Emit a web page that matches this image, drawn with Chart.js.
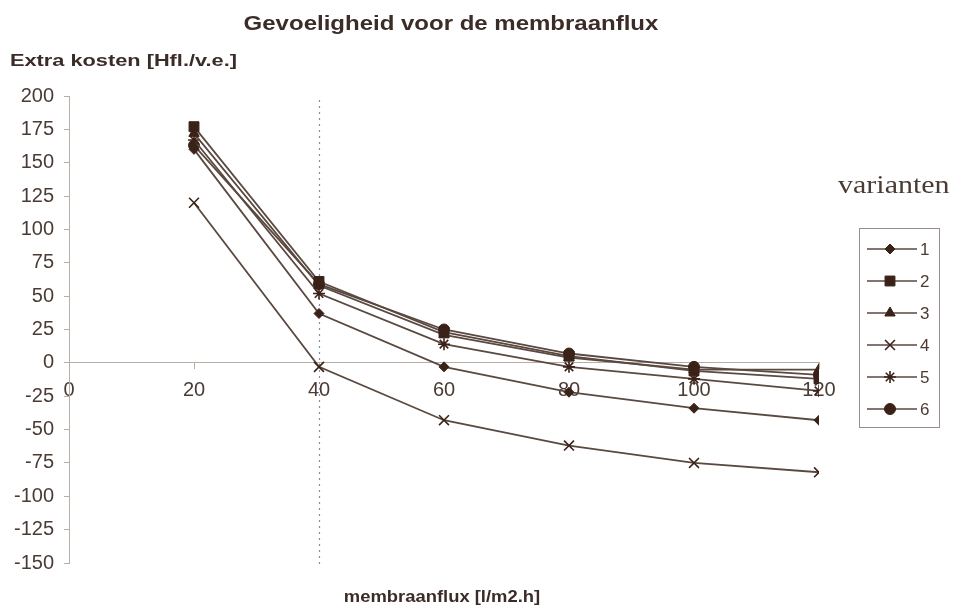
<!DOCTYPE html>
<html>
<head>
<meta charset="utf-8">
<script src="https://cdn.jsdelivr.net/npm/chart.js@4/dist/chart.umd.min.js"></script>
<style>
  html, body { margin: 0; padding: 0; background: #fff; }
  #wrap { position: relative; width: 954px; height: 609px; overflow: hidden; }
  #chart { position: absolute; left: 0; top: 0; }
  .lbl { position: absolute; color: #3b2c27; font-family: "Liberation Sans", Arial, sans-serif; font-weight: bold; white-space: nowrap; }
  #title { left: 0; width: 902px; top: 12px; text-align: center; font-size: 20px; transform: scaleX(1.2); transform-origin: 451px 0; }
  #ytitle { left: 10px; top: 51px; font-size: 17px; transform: scaleX(1.28); transform-origin: 0 0; }
  #xtitle { left: 0; width: 884px; top: 588px; text-align: center; font-size: 16px; transform: scaleX(1.15); transform-origin: 442px 0; }
  #legtitle { left: 838px; top: 171px; font-family: "Liberation Serif", "Times New Roman", serif; font-weight: normal; font-size: 25px; color: #4a3b35; transform: scaleX(1.2); transform-origin: 0 0; }
</style>
</head>
<body>
<div id="wrap">
  <canvas id="chart" width="954" height="609"></canvas>
  <div class="lbl" id="title">Gevoeligheid voor de membraanflux</div>
  <div class="lbl" id="ytitle">Extra kosten [Hfl./v.e.]</div>
  <div class="lbl" id="xtitle">membraanflux [l/m2.h]</div>
  <div class="lbl" id="legtitle">varianten</div>
</div>
<script>
const fluxValues = [20, 40, 60, 80, 100, 120];
const variantNames = ['1', '2', '3', '4', '5', '6'];
const variant1 = [160, 37, -3, -22, -34, -43];
const variant2 = [177, 61, 23, 5, -6, -12];
const variant3 = [172, 58, 21, 4, -5, -5];
const variant4 = [120, -3, -43, -62, -75, -82];
const variant5 = [167, 52, 14, -3, -12, -21];
const variant6 = [163, 59, 25, 7, -3, -9];
const yTicks = [-150, -125, -100, -75, -50, -25, 0, 25, 50, 75, 100, 125, 150, 175, 200];
const xTicks = [0, 20, 40, 60, 80, 100, 120];
const markerLine = 40;

const seriesValues = [variant1, variant2, variant3, variant4, variant5, variant6];
const pointStyles = ['rectRot', 'rect', 'triangle', 'crossRot', 'star', 'circle'];
const pointSizes = [5, 7, 6, 7, 6, 5.5];

const lineColor = '#5a4940';
const markColor = '#3a2219';
const tickFont = { size: 20, family: '"Liberation Sans", Arial' };

const datasets = seriesValues.map((vals, i) => ({
  label: variantNames[i],
  data: vals.map((v, j) => ({ x: fluxValues[j], y: v })),
  borderColor: lineColor,
  borderWidth: 1.8,
  pointStyle: pointStyles[i],
  pointRadius: pointSizes[i],
  pointBackgroundColor: markColor,
  pointBorderColor: markColor,
  pointBorderWidth: (pointStyles[i] === 'crossRot' || pointStyles[i] === 'star') ? 1.6 : 1,
  tension: 0,
}));

// dotted vertical reference line at the chosen flux
const refLine = {
  id: 'refLine',
  beforeDatasetsDraw(chart) {
    const { ctx, chartArea, scales } = chart;
    const x = Math.round(scales.x.getPixelForValue(markerLine)) + 0.5;
    ctx.save();
    ctx.strokeStyle = '#8a8aa0';
    ctx.lineWidth = 1.2;
    ctx.setLineDash([2, 4]);
    ctx.beginPath();
    ctx.moveTo(x, chartArea.top + 4);
    ctx.lineTo(x, chartArea.bottom + 2);
    ctx.stroke();
    ctx.restore();
  },
};

// boxed legend on the right side
const boxLegend = {
  id: 'boxLegend',
  afterDraw(chart) {
    const { ctx } = chart;
    const left = 859, top = 228, w = 80, h = 199, rowH = 32;
    ctx.save();
    ctx.strokeStyle = '#9a8f88';
    ctx.lineWidth = 1;
    ctx.strokeRect(left + 0.5, top + 0.5, w, h);
    ctx.font = '17px "Liberation Sans", Arial, sans-serif';
    ctx.textBaseline = 'middle';
    chart.data.datasets.forEach((ds, i) => {
      const y = top + 21 + i * rowH;
      ctx.strokeStyle = lineColor;
      ctx.lineWidth = 1.6;
      ctx.beginPath();
      ctx.moveTo(867, y);
      ctx.lineTo(917, y);
      ctx.stroke();
      ctx.fillStyle = markColor;
      ctx.strokeStyle = markColor;
      ctx.lineWidth = ds.pointBorderWidth;
      Chart.helpers.drawPoint(ctx, { pointStyle: ds.pointStyle, radius: ds.pointRadius, borderWidth: ds.pointBorderWidth, rotation: 0 }, 890, y);
      ctx.fillStyle = '#4a3b35';
      ctx.fillText(ds.label, 920, y + 1);
    });
    ctx.restore();
  },
};

new Chart(document.getElementById('chart'), {
  type: 'line',
  data: { datasets },
  options: {
    responsive: false,
    animation: false,
    layout: { padding: { left: 0, top: 96, right: 135, bottom: 46 } },
    plugins: { legend: { display: false }, tooltip: { enabled: false } },
    scales: {
      x: {
        type: 'linear',
        position: { y: 0 },
        min: 0,
        max: 120,
        afterBuildTicks(scale) { scale.ticks = xTicks.map((v) => ({ value: v })); },
        ticks: { color: '#4a3b35', font: tickFont, padding: 10, maxRotation: 0 },
        grid: { drawOnChartArea: false, drawTicks: true, tickLength: 6, color: '#b9aea6' },
        border: { color: '#b9aea6', width: 1 },
      },
      y: {
        type: 'linear',
        position: 'left',
        min: -150,
        max: 200,
        afterBuildTicks(scale) { scale.ticks = yTicks.map((v) => ({ value: v })); },
        afterFit(scale) { scale.width = 69; },
        ticks: { color: '#4a3b35', font: tickFont, padding: 10 },
        grid: { drawOnChartArea: false, drawTicks: true, tickLength: 5, color: '#b9aea6' },
        border: { color: '#b9aea6', width: 1 },
      },
    },
  },
  plugins: [refLine, boxLegend],
});
</script>
</body>
</html>
